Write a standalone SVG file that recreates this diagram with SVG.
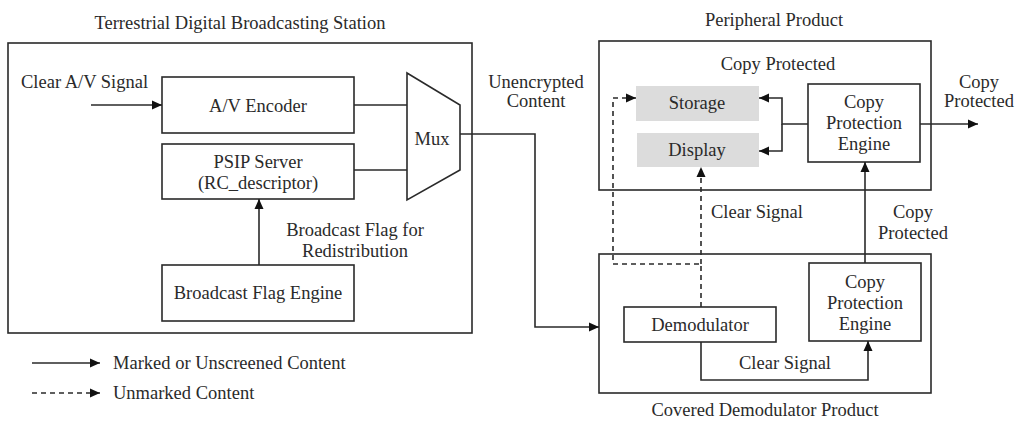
<svg xmlns="http://www.w3.org/2000/svg" width="1020" height="422" viewBox="0 0 1020 422">
<style>
text{font-family:'Liberation Serif',serif;font-size:18.5px;fill:#2a2a2a}
.c{text-anchor:middle}
.box{fill:#fff;stroke:#2a2a2a;stroke-width:1.6}
.gbox{fill:#dcdcdc;stroke:none}
.ln{fill:none;stroke:#2a2a2a;stroke-width:1.6}
.dl{fill:none;stroke:#2a2a2a;stroke-width:1.6;stroke-dasharray:5,4}
</style>
<defs>
<marker id="ah" viewBox="0 0 10 10" refX="10" refY="5" markerWidth="10" markerHeight="10" markerUnits="userSpaceOnUse" orient="auto">
<path d="M0,0.5 L10,5 L0,9.5 z" fill="#111"/>
</marker>
</defs>
<rect width="1020" height="422" fill="#fff"/>

<g id="station">
<rect class="box" x="8" y="43" width="464" height="290"/>
<text class="c" x="240" y="29">Terrestrial Digital Broadcasting Station</text>
</g>
<g id="encoder">
<rect class="box" x="162" y="77" width="192" height="56"/>
<text class="c" x="258" y="112">A/V Encoder</text>
</g>
<g id="psip">
<rect class="box" x="162" y="144" width="192" height="55"/>
<text class="c" x="258" y="168">PSIP Server</text>
<text class="c" x="258" y="189">(RC_descriptor)</text>
</g>
<g id="mux">
<path class="box" d="M407,73 L460,105 L460,170 L407,200 Z"/>
<text class="c" x="432" y="145">Mux</text>
</g>
<g id="bfengine">
<rect class="box" x="162" y="265" width="192" height="56"/>
<text class="c" x="258" y="299">Broadcast Flag Engine</text>
</g>

<g id="peripheral">
<rect class="box" x="599" y="41" width="332" height="149"/>
<text class="c" x="774" y="26">Peripheral Product</text>
<text class="c" x="778" y="70">Copy Protected</text>
</g>
<g id="storage">
<rect class="gbox" x="636" y="86" width="123" height="35"/>
<text class="c" x="697" y="109">Storage</text>
</g>
<g id="display">
<rect class="gbox" x="637" y="133" width="122" height="34"/>
<text class="c" x="697" y="156">Display</text>
</g>
<g id="cpe-peripheral">
<rect class="box" x="808" y="84" width="112" height="78"/>
<text class="c" x="864" y="108">Copy</text>
<text class="c" x="864" y="129">Protection</text>
<text class="c" x="864" y="150">Engine</text>
</g>

<g id="covered">
<rect class="box" x="599" y="254" width="332" height="139"/>
<text class="c" x="765" y="416">Covered Demodulator Product</text>
</g>
<g id="demodulator">
<rect class="box" x="624" y="307" width="152" height="35"/>
<text class="c" x="700" y="331">Demodulator</text>
</g>
<g id="cpe-covered">
<rect class="box" x="809" y="263" width="112" height="78"/>
<text class="c" x="865" y="288">Copy</text>
<text class="c" x="865" y="309">Protection</text>
<text class="c" x="865" y="330">Engine</text>
</g>

<g id="connectors">
<line class="ln" x1="91" y1="105" x2="162" y2="105" marker-end="url(#ah)"/>
<line class="ln" x1="354" y1="105" x2="407" y2="105"/>
<line class="ln" x1="354" y1="170" x2="407" y2="170"/>
<line class="ln" x1="259" y1="265" x2="259" y2="199" marker-end="url(#ah)"/>
<polyline class="ln" points="460,134 535,134 535,327 599,327" marker-end="url(#ah)"/>
<polyline class="ln" points="808,124 782,124 782,98 759,98" marker-end="url(#ah)"/>
<polyline class="ln" points="782,124 782,151 759,151" marker-end="url(#ah)"/>
<line class="ln" x1="920" y1="124" x2="978" y2="124" marker-end="url(#ah)"/>
<line class="ln" x1="865" y1="263" x2="865" y2="162" marker-end="url(#ah)"/>
<polyline class="ln" points="701,342 701,380 868,380 868,341" marker-end="url(#ah)"/>
<polyline class="dl" points="701,307 701,264 613,264 613,98 636,98" marker-end="url(#ah)"/>
<line class="dl" x1="701" y1="264" x2="701" y2="167" marker-end="url(#ah)"/>
<line class="ln" x1="32" y1="363" x2="100" y2="363" marker-end="url(#ah)"/>
<line class="dl" x1="32" y1="393" x2="100" y2="393" marker-end="url(#ah)"/>
</g>

<g id="labels">
<text x="21" y="88">Clear A/V Signal</text>
<text class="c" x="355" y="236">Broadcast Flag for</text>
<text class="c" x="355" y="257">Redistribution</text>
<text class="c" x="536" y="88">Unencrypted</text>
<text class="c" x="536" y="107">Content</text>
<text class="c" x="979" y="88">Copy</text>
<text class="c" x="979" y="107">Protected</text>
<text x="711" y="218">Clear Signal</text>
<text class="c" x="913" y="218">Copy</text>
<text class="c" x="913" y="239">Protected</text>
<text class="c" x="785" y="369">Clear Signal</text>
<text x="113" y="369">Marked or Unscreened Content</text>
<text x="113" y="399">Unmarked Content</text>
</g>
</svg>
